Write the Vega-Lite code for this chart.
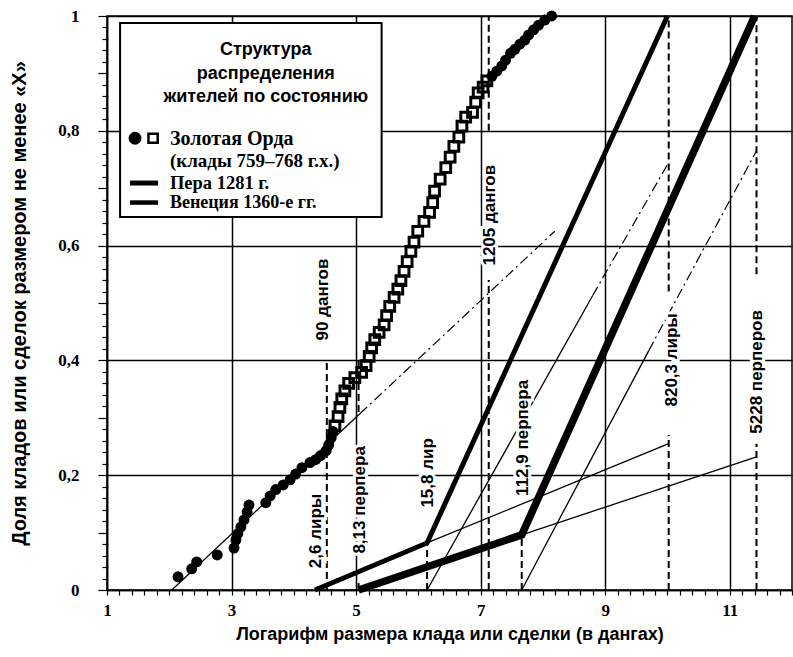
{
  "$schema": "https://vega.github.io/schema/vega-lite/v6.json",
  "width": 685,
  "height": 574,
  "autosize": {"type": "none"},
  "padding": {"left": 107, "top": 16, "right": 1, "bottom": 67},
  "background": "white",
  "config": {"view": {"stroke": "black", "strokeWidth": 1.5}, "font": "Liberation Sans"},
  "resolve": {"axis": {"x": "independent", "y": "independent"}},
  "datasets": {
    "gh_circles": [
      {"x": 2.14, "y": 0.023}, {"x": 2.36, "y": 0.037}, {"x": 2.44, "y": 0.049}, {"x": 2.77, "y": 0.061},
      {"x": 3.04, "y": 0.073}, {"x": 3.07, "y": 0.087}, {"x": 3.10, "y": 0.098}, {"x": 3.15, "y": 0.110},
      {"x": 3.20, "y": 0.122}, {"x": 3.25, "y": 0.136}, {"x": 3.28, "y": 0.148}, {"x": 3.55, "y": 0.152},
      {"x": 3.62, "y": 0.164}, {"x": 3.71, "y": 0.175}, {"x": 3.83, "y": 0.183}, {"x": 3.94, "y": 0.192},
      {"x": 4.03, "y": 0.202}, {"x": 4.13, "y": 0.213}, {"x": 4.26, "y": 0.222}, {"x": 4.35, "y": 0.227},
      {"x": 4.43, "y": 0.234}, {"x": 4.52, "y": 0.243}, {"x": 4.56, "y": 0.253}, {"x": 4.60, "y": 0.265},
      {"x": 4.63, "y": 0.276},
      {"x": 7.18, "y": 0.895}, {"x": 7.26, "y": 0.904}, {"x": 7.34, "y": 0.913}, {"x": 7.40, "y": 0.923},
      {"x": 7.48, "y": 0.935}, {"x": 7.55, "y": 0.942}, {"x": 7.63, "y": 0.951}, {"x": 7.71, "y": 0.958},
      {"x": 7.77, "y": 0.967}, {"x": 7.85, "y": 0.976}, {"x": 7.93, "y": 0.984}, {"x": 8.03, "y": 0.993},
      {"x": 8.14, "y": 1.0}
    ],
    "gh_squares": [
      {"x": 4.66, "y": 0.286}, {"x": 4.71, "y": 0.302}, {"x": 4.74, "y": 0.318}, {"x": 4.77, "y": 0.333},
      {"x": 4.82, "y": 0.347}, {"x": 4.88, "y": 0.360}, {"x": 4.98, "y": 0.370}, {"x": 5.09, "y": 0.379},
      {"x": 5.16, "y": 0.391}, {"x": 5.21, "y": 0.407}, {"x": 5.25, "y": 0.422}, {"x": 5.30, "y": 0.436},
      {"x": 5.37, "y": 0.449}, {"x": 5.45, "y": 0.462}, {"x": 5.49, "y": 0.478}, {"x": 5.54, "y": 0.494},
      {"x": 5.61, "y": 0.510}, {"x": 5.67, "y": 0.524}, {"x": 5.72, "y": 0.539}, {"x": 5.77, "y": 0.555},
      {"x": 5.82, "y": 0.572}, {"x": 5.88, "y": 0.590}, {"x": 5.93, "y": 0.606}, {"x": 5.99, "y": 0.625},
      {"x": 6.09, "y": 0.642}, {"x": 6.18, "y": 0.658}, {"x": 6.23, "y": 0.675}, {"x": 6.26, "y": 0.695},
      {"x": 6.35, "y": 0.716}, {"x": 6.44, "y": 0.736}, {"x": 6.51, "y": 0.754}, {"x": 6.57, "y": 0.773},
      {"x": 6.65, "y": 0.789}, {"x": 6.70, "y": 0.808}, {"x": 6.76, "y": 0.824}, {"x": 6.87, "y": 0.832},
      {"x": 6.92, "y": 0.850}, {"x": 6.96, "y": 0.866}, {"x": 7.04, "y": 0.876}, {"x": 7.10, "y": 0.887}
    ],
    "lines": [
      {"series": "gh_fit_solid", "x": 2.04, "y": 0.0}, {"series": "gh_fit_solid", "x": 5.06, "y": 0.307},
      {"series": "gh_fit_dd", "x": 5.06, "y": 0.307}, {"series": "gh_fit_dd", "x": 8.19, "y": 0.625},
      {"series": "pera_ext", "x": 6.14, "y": 0.082}, {"series": "pera_ext", "x": 10.02, "y": 0.255},
      {"series": "pera_par_solid", "x": 6.14, "y": 0.0}, {"series": "pera_par_solid", "x": 8.8, "y": 0.513},
      {"series": "pera_par_dd", "x": 8.8, "y": 0.513}, {"series": "pera_par_dd", "x": 10.02, "y": 0.745},
      {"series": "ven_ext", "x": 7.66, "y": 0.096}, {"series": "ven_ext", "x": 11.43, "y": 0.232},
      {"series": "ven_par_solid", "x": 7.66, "y": 0.0}, {"series": "ven_par_solid", "x": 9.7, "y": 0.417},
      {"series": "ven_par_dd", "x": 9.7, "y": 0.417}, {"series": "ven_par_dd", "x": 11.43, "y": 0.765},
      {"series": "Пера", "x": 4.34, "y": 0.0}, {"series": "Пера", "x": 6.14, "y": 0.082}, {"series": "Пера", "x": 10.0, "y": 1.0},
      {"series": "Венеция", "x": 5.04, "y": 0.0}, {"series": "Венеция", "x": 7.66, "y": 0.096}, {"series": "Венеция", "x": 11.4, "y": 1.0}
    ],
    "refs": [
      {"x": 4.53, "y": 0.0, "y2": 0.40},
      {"x": 5.04, "y": 0.31, "y2": 0.40},
      {"x": 5.04, "y": 0.0, "y2": 0.012},
      {"x": 6.14, "y": 0.0, "y2": 0.082},
      {"x": 7.13, "y": 0.0, "y2": 0.54},
      {"x": 7.13, "y": 0.80, "y2": 1.0},
      {"x": 7.66, "y": 0.0, "y2": 0.096},
      {"x": 10.02, "y": 0.0, "y2": 0.27},
      {"x": 10.02, "y": 0.52, "y2": 1.0},
      {"x": 11.43, "y": 0.0, "y2": 0.255},
      {"x": 11.43, "y": 0.55, "y2": 1.0}
    ],
    "labels": [
      {"x": 4.47, "y": 0.506, "text": "90 дангов"},
      {"x": 4.35, "y": 0.103, "text": "2,6 лиры"},
      {"x": 5.06, "y": 0.157, "text": "8,13 перпера"},
      {"x": 6.15, "y": 0.204, "text": "15,8 лир"},
      {"x": 7.15, "y": 0.653, "text": "1205 дангов"},
      {"x": 7.68, "y": 0.265, "text": "112,9 перпера"},
      {"x": 10.07, "y": 0.401, "text": "820,3 лиры"},
      {"x": 11.43, "y": 0.38, "text": "5228 перперов"}
    ]
  },
  "layer": [
    {
      "data": {"name": "lines"},
      "transform": [{"filter": {"field": "series", "oneOf": ["gh_fit_solid", "pera_ext", "pera_par_solid", "ven_ext", "ven_par_solid"]}}],
      "mark": {"type": "line", "color": "black", "strokeWidth": 1.3},
      "encoding": {
        "x": {
          "field": "x", "type": "quantitative",
          "scale": {"domain": [1, 12], "nice": false, "zero": false},
          "axis": {
            "title": "Логарифм размера клада или сделки (в дангах)",
            "values": [1,1.2,1.4,1.6,1.8,2,2.2,2.4,2.6,2.8,3,3.2,3.4,3.6,3.8,4,4.2,4.4,4.6,4.8,5,5.2,5.4,5.6,5.8,6,6.2,6.4,6.6,6.8,7,7.2,7.4,7.6,7.8,8,8.2,8.4,8.6,8.8,9,9.2,9.4,9.6,9.8,10,10.2,10.4,10.6,10.8,11,11.2,11.4,11.6,11.8,12],
            "labelExpr": "datum.value % 2 === 1 ? format(datum.value, 'd') : ''",
            "labelOverlap": false,
            "labelFlush": false,
            "labelFont": "Liberation Serif",
            "labelFontWeight": "bold",
            "labelFontSize": 17,
            "labelColor": "black",
            "labelPadding": 7,
            "tickColor": "black",
            "tickWidth": 1.2,
            "tickSize": 5,
            "domainColor": "black",
            "domainWidth": 1.5,
            "grid": true,
            "gridColor": "black",
            "gridWidth": 1.5,
            "gridOpacity": {"condition": {"test": "datum.value % 2 === 1", "value": 1}, "value": 0},
            "titleFont": "Liberation Sans",
            "titleFontWeight": "bold",
            "titleFontSize": 18,
            "titleColor": "black",
            "titlePadding": 7
          }
        },
        "y": {
          "field": "y", "type": "quantitative",
          "scale": {"domain": [0, 1], "nice": false, "zero": false},
          "axis": {
            "title": "Доля кладов или сделок  размером не менее «Х»",
            "values": [0,0.02,0.04,0.06,0.08,0.1,0.12,0.14,0.16,0.18,0.2,0.22,0.24,0.26,0.28,0.3,0.32,0.34,0.36,0.38,0.4,0.42,0.44,0.46,0.48,0.5,0.52,0.54,0.56,0.58,0.6,0.62,0.64,0.66,0.68,0.7,0.72,0.74,0.76,0.78,0.8,0.82,0.84,0.86,0.88,0.9,0.92,0.94,0.96,0.98,1],
            "labelExpr": "abs(datum.value * 5 - round(datum.value * 5)) < 0.000001 ? replace(format(datum.value, '.1~f'), '.', ',') : ''",
            "labelOverlap": false,
            "labelFlush": false,
            "labelFont": "Liberation Serif",
            "labelFontWeight": "bold",
            "labelFontSize": 17,
            "labelColor": "black",
            "labelPadding": 19,
            "tickColor": "black",
            "tickWidth": 1.2,
            "tickSize": {"condition": {"test": "abs(datum.value * 10 - round(datum.value * 10)) < 0.000001", "value": 9}, "value": 5},
            "domainColor": "black",
            "domainWidth": 1.5,
            "grid": true,
            "gridColor": "black",
            "gridWidth": 1.5,
            "gridOpacity": {"condition": {"test": "abs(datum.value * 5 - round(datum.value * 5)) < 0.000001", "value": 1}, "value": 0},
            "titleFont": "Liberation Sans",
            "titleFontWeight": "bold",
            "titleFontSize": 20,
            "titleColor": "black",
            "titlePadding": 28
          }
        },
        "detail": {"field": "series"}
      }
    },
    {
      "data": {"name": "lines"},
      "transform": [{"filter": {"field": "series", "oneOf": ["gh_fit_dd", "pera_par_dd", "ven_par_dd"]}}],
      "mark": {"type": "line", "color": "black", "strokeWidth": 1.2, "strokeDash": [10, 4, 2, 4]},
      "encoding": {
        "x": {"field": "x", "type": "quantitative", "scale": {"domain": [1, 12], "nice": false, "zero": false}, "axis": null},
        "y": {"field": "y", "type": "quantitative", "scale": {"domain": [0, 1], "nice": false, "zero": false}, "axis": null},
        "detail": {"field": "series"}
      }
    },
    {
      "data": {"name": "refs"},
      "mark": {"type": "rule", "color": "black", "strokeWidth": 2, "strokeDash": [7, 4]},
      "encoding": {
        "x": {"field": "x", "type": "quantitative", "scale": {"domain": [1, 12], "nice": false, "zero": false}, "axis": null},
        "y": {"field": "y", "type": "quantitative", "scale": {"domain": [0, 1], "nice": false, "zero": false}, "axis": null},
        "y2": {"field": "y2"}
      }
    },
    {
      "data": {"name": "labels"},
      "mark": {"type": "text", "angle": 270, "align": "center", "baseline": "middle", "font": "Liberation Sans", "fontWeight": "bold", "fontSize": 17, "fill": "white", "stroke": "white", "strokeWidth": 6},
      "encoding": {
        "x": {"field": "x", "type": "quantitative", "scale": {"domain": [1, 12], "nice": false, "zero": false}, "axis": null},
        "y": {"field": "y", "type": "quantitative", "scale": {"domain": [0, 1], "nice": false, "zero": false}, "axis": null},
        "text": {"field": "text"}
      }
    },
    {
      "data": {"name": "labels"},
      "mark": {"type": "text", "angle": 270, "align": "center", "baseline": "middle", "font": "Liberation Sans", "fontWeight": "bold", "fontSize": 17, "fill": "black"},
      "encoding": {
        "x": {"field": "x", "type": "quantitative", "scale": {"domain": [1, 12], "nice": false, "zero": false}, "axis": null},
        "y": {"field": "y", "type": "quantitative", "scale": {"domain": [0, 1], "nice": false, "zero": false}, "axis": null},
        "text": {"field": "text"}
      }
    },
    {
      "data": {"name": "lines"},
      "transform": [{"filter": {"field": "series", "equal": "Пера"}}],
      "mark": {"type": "line", "color": "black", "strokeWidth": 5},
      "encoding": {
        "x": {"field": "x", "type": "quantitative", "scale": {"domain": [1, 12], "nice": false, "zero": false}, "axis": null},
        "y": {"field": "y", "type": "quantitative", "scale": {"domain": [0, 1], "nice": false, "zero": false}, "axis": null}
      }
    },
    {
      "data": {"name": "lines"},
      "transform": [{"filter": {"field": "series", "equal": "Венеция"}}],
      "mark": {"type": "line", "color": "black", "strokeWidth": 7.5},
      "encoding": {
        "x": {"field": "x", "type": "quantitative", "scale": {"domain": [1, 12], "nice": false, "zero": false}, "axis": null},
        "y": {"field": "y", "type": "quantitative", "scale": {"domain": [0, 1], "nice": false, "zero": false}, "axis": null}
      }
    },
    {
      "data": {"name": "gh_circles"},
      "mark": {"type": "point", "shape": "circle", "filled": true, "color": "black", "size": 120, "opacity": 1},
      "encoding": {
        "x": {"field": "x", "type": "quantitative", "scale": {"domain": [1, 12], "nice": false, "zero": false}, "axis": null},
        "y": {"field": "y", "type": "quantitative", "scale": {"domain": [0, 1], "nice": false, "zero": false}, "axis": null}
      }
    },
    {
      "data": {"name": "gh_squares"},
      "mark": {"type": "point", "shape": "square", "filled": false, "color": "black", "size": 95, "strokeWidth": 3, "opacity": 1},
      "encoding": {
        "x": {"field": "x", "type": "quantitative", "scale": {"domain": [1, 12], "nice": false, "zero": false}, "axis": null},
        "y": {"field": "y", "type": "quantitative", "scale": {"domain": [0, 1], "nice": false, "zero": false}, "axis": null}
      }
    },
    {
      "data": {"values": [{}]},
      "mark": {"type": "rect", "fill": "white", "stroke": "black", "strokeWidth": 2},
      "encoding": {
        "x": {"datum": 1.21, "type": "quantitative", "scale": {"domain": [1, 12], "nice": false, "zero": false}, "axis": null},
        "x2": {"datum": 5.41},
        "y": {"datum": 0.988, "type": "quantitative", "scale": {"domain": [0, 1], "nice": false, "zero": false}, "axis": null},
        "y2": {"datum": 0.65}
      }
    },
    {
      "data": {"values": [{}]},
      "mark": {"type": "text", "align": "center", "baseline": "middle", "font": "Liberation Sans", "fontWeight": "bold", "fontSize": 18, "lineHeight": 23.5, "color": "black"},
      "encoding": {
        "x": {"datum": 3.55, "type": "quantitative", "scale": {"domain": [1, 12], "nice": false, "zero": false}, "axis": null},
        "y": {"datum": 0.94, "type": "quantitative", "scale": {"domain": [0, 1], "nice": false, "zero": false}, "axis": null},
        "text": {"value": ["Структура", "распределения", "жителей по состоянию"]}
      }
    },
    {
      "data": {"values": [{}]},
      "mark": {"type": "point", "shape": "circle", "filled": true, "color": "black", "size": 165, "opacity": 1},
      "encoding": {
        "x": {"datum": 1.45, "type": "quantitative", "scale": {"domain": [1, 12], "nice": false, "zero": false}, "axis": null},
        "y": {"datum": 0.787, "type": "quantitative", "scale": {"domain": [0, 1], "nice": false, "zero": false}, "axis": null}
      }
    },
    {
      "data": {"values": [{}]},
      "mark": {"type": "point", "shape": "square", "filled": false, "color": "black", "size": 85, "strokeWidth": 2.5, "opacity": 1},
      "encoding": {
        "x": {"datum": 1.74, "type": "quantitative", "scale": {"domain": [1, 12], "nice": false, "zero": false}, "axis": null},
        "y": {"datum": 0.787, "type": "quantitative", "scale": {"domain": [0, 1], "nice": false, "zero": false}, "axis": null}
      }
    },
    {
      "data": {"values": [{}]},
      "mark": {"type": "text", "align": "left", "baseline": "middle", "font": "Liberation Serif", "fontWeight": "bold", "fontSize": 20, "color": "black"},
      "encoding": {
        "x": {"datum": 2.01, "type": "quantitative", "scale": {"domain": [1, 12], "nice": false, "zero": false}, "axis": null},
        "y": {"datum": 0.786, "type": "quantitative", "scale": {"domain": [0, 1], "nice": false, "zero": false}, "axis": null},
        "text": {"value": "Золотая Орда"}
      }
    },
    {
      "data": {"values": [{}]},
      "mark": {"type": "text", "align": "left", "baseline": "middle", "font": "Liberation Serif", "fontWeight": "bold", "fontSize": 19, "color": "black"},
      "encoding": {
        "x": {"datum": 2.01, "type": "quantitative", "scale": {"domain": [1, 12], "nice": false, "zero": false}, "axis": null},
        "y": {"datum": 0.747, "type": "quantitative", "scale": {"domain": [0, 1], "nice": false, "zero": false}, "axis": null},
        "text": {"value": "(клады 759–768 г.х.)"}
      }
    },
    {
      "data": {"values": [{}]},
      "mark": {"type": "rule", "color": "black", "strokeWidth": 5},
      "encoding": {
        "x": {"datum": 1.37, "type": "quantitative", "scale": {"domain": [1, 12], "nice": false, "zero": false}, "axis": null},
        "x2": {"datum": 1.82},
        "y": {"datum": 0.709, "type": "quantitative", "scale": {"domain": [0, 1], "nice": false, "zero": false}, "axis": null}
      }
    },
    {
      "data": {"values": [{}]},
      "mark": {"type": "text", "align": "left", "baseline": "middle", "font": "Liberation Serif", "fontWeight": "bold", "fontSize": 18.5, "color": "black"},
      "encoding": {
        "x": {"datum": 2.01, "type": "quantitative", "scale": {"domain": [1, 12], "nice": false, "zero": false}, "axis": null},
        "y": {"datum": 0.709, "type": "quantitative", "scale": {"domain": [0, 1], "nice": false, "zero": false}, "axis": null},
        "text": {"value": "Пера 1281 г."}
      }
    },
    {
      "data": {"values": [{}]},
      "mark": {"type": "rule", "color": "black", "strokeWidth": 4.5},
      "encoding": {
        "x": {"datum": 1.37, "type": "quantitative", "scale": {"domain": [1, 12], "nice": false, "zero": false}, "axis": null},
        "x2": {"datum": 1.82},
        "y": {"datum": 0.675, "type": "quantitative", "scale": {"domain": [0, 1], "nice": false, "zero": false}, "axis": null}
      }
    },
    {
      "data": {"values": [{}]},
      "mark": {"type": "text", "align": "left", "baseline": "middle", "font": "Liberation Serif", "fontWeight": "bold", "fontSize": 18, "color": "black"},
      "encoding": {
        "x": {"datum": 2.01, "type": "quantitative", "scale": {"domain": [1, 12], "nice": false, "zero": false}, "axis": null},
        "y": {"datum": 0.674, "type": "quantitative", "scale": {"domain": [0, 1], "nice": false, "zero": false}, "axis": null},
        "text": {"value": "Венеция 1360-е гг."}
      }
    }
  ]
}
